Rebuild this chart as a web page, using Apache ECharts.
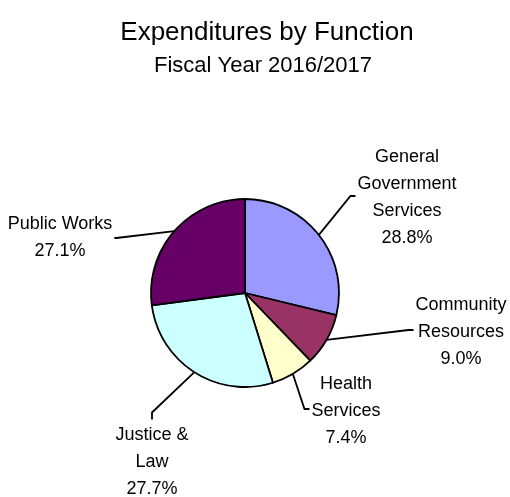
<!DOCTYPE html>
<html>
<head>
<meta charset="utf-8">
<script src="https://cdn.jsdelivr.net/npm/echarts@6/dist/echarts.min.js"></script>
<style>
  html, body { margin: 0; padding: 0; background: #fff; }
  #chart { width: 510px; height: 497px; }
</style>
</head>
<body>
<div id="chart"></div>
<script>
// Expenditure shares by function, percent of total
const categories = ['General\nGovernment\nServices', 'Community\nResources', 'Health\nServices', 'Justice &\nLaw', 'Public Works'];
const shares = [28.8, 9.0, 7.4, 27.7, 27.1];
const sliceColors = ['#9999FF', '#993366', '#FFFFCC', '#CCFFFF', '#660066'];

const FONT = "'Liberation Sans Narrow', 'Arial Narrow', 'Liberation Sans', Arial, sans-serif";

// Where each label block sits and which edge its leader line attaches to
const labelSpots = [
  { x: 407, y: 198, side: 'left' },
  { x: 461, y: 332, side: 'left' },
  { x: 346, y: 411, side: 'left' },
  { x: 152, y: 462, side: 'top' },
  { x: 60,  y: 238, side: 'right' }
];

const chart = echarts.init(document.getElementById('chart'), null, { renderer: 'canvas' });

chart.setOption({
  animation: false,
  backgroundColor: '#ffffff',
  title: [
    {
      text: 'Expenditures by Function',
      left: 262, top: 15, textAlign: 'center',
      textStyle: { fontFamily: FONT, fontSize: 26, fontWeight: 'normal', color: '#000' }
    },
    {
      text: 'Fiscal Year 2016/2017',
      left: 258, top: 50, textAlign: 'center',
      textStyle: { fontFamily: FONT, fontSize: 22, fontWeight: 'normal', color: '#000' }
    }
  ],
  series: [{
    type: 'pie',
    center: [245, 293],
    radius: 94,
    startAngle: 90,
    clockwise: true,
    avoidLabelOverlap: false,
    itemStyle: { borderColor: '#000', borderWidth: 1.8 },
    emphasis: { disabled: true },
    label: {
      show: true,
      position: 'outside',
      fontFamily: FONT,
      fontSize: 18,
      lineHeight: 27,
      color: '#000',
      formatter: p => p.name + '\n' + p.value.toFixed(1) + '%'
    },
    labelLine: { show: true, length: 20, length2: 10, lineStyle: { color: '#000', width: 1.8 } },
    labelLayout: function (params) {
      const spot = labelSpots[params.dataIndex];
      const w = params.labelRect.width, h = params.labelRect.height;
      const start = params.labelLinePoints ? params.labelLinePoints[0] : null;
      let end, elbow;
      if (spot.side === 'left') {
        end = [spot.x - w / 2 - 2, spot.y - 2];
        elbow = [end[0] - 5, end[1]];
      } else if (spot.side === 'right') {
        end = [spot.x + w / 2 + 2, spot.y];
        elbow = [end[0] + 2, end[1]];
      } else {
        end = [spot.x, spot.y - h / 2 - 2];
        elbow = [end[0], end[1] - 7];
      }
      const out = { x: spot.x, y: spot.y, align: 'center', verticalAlign: 'middle' };
      if (start) out.labelLinePoints = [start, elbow, end];
      return out;
    },
    data: categories.map((name, i) => ({
      name: name,
      value: shares[i],
      itemStyle: { color: sliceColors[i] }
    }))
  }]
});
</script>
</body>
</html>
